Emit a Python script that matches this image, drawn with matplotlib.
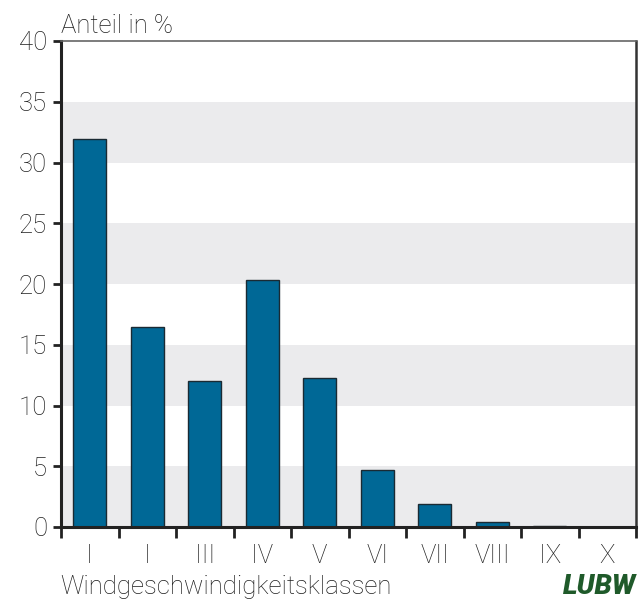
import numpy as np
import matplotlib.pyplot as plt

# Windgeschwindigkeitsklassen und Anteile
klassen = ["I", "I", "III", "IV", "V", "VI", "VII", "VIII", "IX", "X"]
anteil = [31.9, 16.5, 12.0, 20.3, 12.3, 4.7, 1.9, 0.4, 0.05, 0.0]
y_ticks = [0, 5, 10, 15, 20, 25, 30, 35, 40]

plt.rcParams["font.family"] = ["Roboto", "DejaVu Sans"]
plt.rcParams["font.weight"] = "light"
txt = "#1e1e1e"

fig = plt.figure(figsize=(6.41, 6.01), dpi=100)
ax = fig.add_axes([61 / 641, 74 / 601, 575 / 641, 486 / 601])

# grey bands every other 5 %
for lo in range(0, 40, 10):
    ax.axhspan(lo, lo + 5, color="#ebebed", lw=0, zorder=0)

x = np.arange(len(klassen))
ax.bar(x, anteil, width=0.57, color="#006896", edgecolor="#1a2a33",
       linewidth=1.0, zorder=2)

ax.set_xlim(-0.5, len(klassen) - 0.5)
ax.set_ylim(0, 40)
ax.set_yticks(y_ticks)
ax.tick_params(axis="y", direction="out", length=6, width=2, labelsize=18.5,
               color="#222222", labelcolor=txt, pad=4)

# ticks at class boundaries, labels centred
ax.set_xticks(np.arange(len(klassen) + 1) - 0.5)
ax.set_xticklabels([])
ax.set_xticks(x, minor=True)
ax.set_xticklabels(klassen, minor=True)
ax.tick_params(axis="x", which="major", direction="out", length=8, width=2,
               color="#222222")
ax.tick_params(axis="x", which="minor", length=0, labelsize=18.5,
               labelcolor=txt, pad=12)

ax.spines["left"].set_linewidth(2.2)
ax.spines["left"].set_color("#222222")
ax.spines["bottom"].set_linewidth(2.2)
ax.spines["bottom"].set_color("#222222")
ax.spines["right"].set_linewidth(1.8)
ax.spines["right"].set_color("#333333")
ax.spines["top"].set_linewidth(1.2)
ax.spines["top"].set_color("#666666")

fig.text(61 / 641, 1 - 26 / 601, "Anteil in %", fontsize=18.5, color=txt,
         va="center", ha="left")
fig.text(60 / 641, 1 - 587 / 601, "Windgeschwindigkeitsklassen", fontsize=18.5,
         color=txt, va="center", ha="left")
fig.text(636 / 641, 1 - 586 / 601, "LUBW", fontsize=20, color="#1f5a2a",
         fontweight="heavy", fontstyle="italic", va="center", ha="right")

fig.savefig("out.png", dpi=100)
